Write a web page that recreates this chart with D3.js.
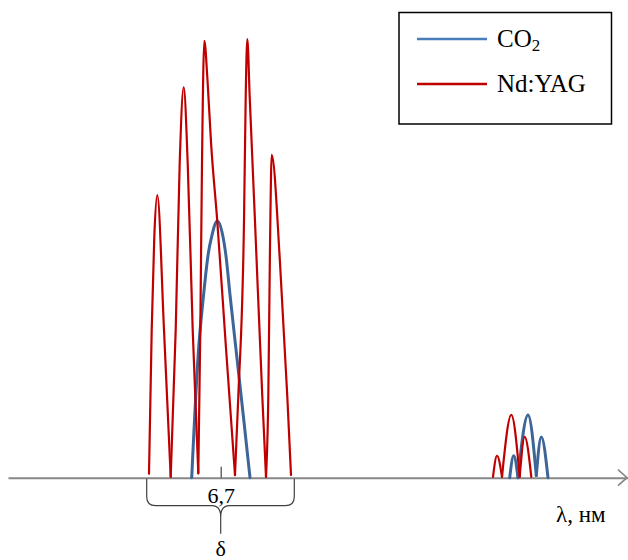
<!DOCTYPE html>
<html>
<head>
<meta charset="utf-8">
<script src="https://cdn.jsdelivr.net/npm/d3@7"></script>
<style>
  html, body { margin: 0; padding: 0; background: #fff; }
  svg { display: block; }
</style>
</head>
<body>
<script>
// Emission lobes as [wavelength position, relative intensity] points.
// Each lobe is drawn as its own smooth segment so the troughs stay sharp.
const ndyagLobes = [
  [[14.10, 0.9], [14.37, 33.7], [14.63, 54.9], [14.93, 64.4], [15.60, 33.7], [16.27, 0.2]],
  [[16.27, 0.2], [16.77, 33.7], [17.17, 71.7], [17.57, 89.0], [17.97, 71.7], [18.47, 33.7], [19.03, 1.0]],
  [[19.03, 1.0], [19.23, 33.7], [19.40, 71.7], [19.63, 99.6], [19.95, 90.6], [20.30, 76.5], [20.93, 58.4], [21.80, 29.5], [22.70, 0.6]],
  [[22.70, 0.6], [23.03, 18.5], [23.60, 58.4], [23.77, 86.8], [23.93, 100], [24.17, 86.8], [24.70, 58.4], [25.43, 18.5], [25.80, 0.2]],
  [[25.80, 0.2], [26.03, 18.5], [26.20, 52.6], [26.37, 73.6], [27.20, 49.0], [27.93, 18.5], [28.30, 0.6]],
  [[48.50, 0.2], [48.90, 5.0], [49.40, 0.2]],
  [[49.40, 0.2], [50.33, 14.3], [51.17, 0.2]],
  [[51.17, 0.2], [51.67, 9.3], [52.33, 0.2]]
];

const co2Lobes = [
  [[18.37, 0.0], [19.03, 28.4], [19.55, 41.5], [20.03, 51.1], [20.37, 55.0], [20.93, 58.5], [21.40, 56.0], [21.80, 50.5], [22.20, 41.7], [22.90, 27.2], [23.60, 12.7], [24.20, 0.0]],
  [[50.17, 0.0], [50.57, 5.0], [51.00, 0.0]],
  [[51.00, 0.0], [52.00, 14.3], [52.83, 0.5]],
  [[52.83, 0.5], [53.33, 9.3], [54.00, 0.0]]
];

const seriesNames = ["CO", "Nd:YAG"];
const seriesSub = ["2", ""];
const axisTicks = [21.27];
const axisTickLabels = ["6,7"];
const braceSpan = [13.87, 28.63];
const braceLabel = "δ";
const axisLabel = "λ, нм";

const W = 628, H = 560;
const FONT = "'Liberation Serif', 'Times New Roman', serif";
const RED = "#c00000", BLUE = "#3d6598", BLUE_KEY = "#4a7ebb", GREY = "#878787";

const svg = d3.select("body").append("svg")
  .attr("width", W).attr("height", H);

const x = d3.scaleLinear().domain([0, 62]).range([8, 628]);
const y = d3.scaleLinear().domain([0, 100]).range([477.7, 39]);
const y0 = y(0);

// Horizontal wavelength axis with a single upward tick
const axis = d3.axisBottom(x)
  .tickValues(axisTicks)
  .tickFormat((d, i) => axisTickLabels[i])
  .tickSizeInner(-11)
  .tickSizeOuter(0)
  .tickPadding(10);

const gAxis = svg.append("g").attr("transform", `translate(0,${y0})`).call(axis);
gAxis.select(".domain").attr("stroke", GREY).attr("stroke-width", 2);
gAxis.selectAll(".tick line").attr("stroke", "#404040").attr("stroke-width", 1.2);
gAxis.selectAll(".tick text")
  .attr("font-family", FONT).attr("font-size", 22).attr("fill", "#000");

// Open arrowhead at the end of the axis
const xEnd = x.range()[1] - 1;
svg.append("path")
  .attr("d", `M${xEnd - 9},${y0 - 8}L${xEnd},${y0}L${xEnd - 9},${y0 + 8}`)
  .attr("fill", "none").attr("stroke", GREY).attr("stroke-width", 1.6);

svg.append("text")
  .attr("x", 556).attr("y", y0 + 44)
  .attr("font-family", FONT).attr("font-size", 23).attr("fill", "#000")
  .text(axisLabel);

// Curly brace under the main band
const bl = x(braceSpan[0]), br = x(braceSpan[1]), bc = x(axisTicks[0]);
const bh = y0 + 28;
const braceD =
  `M${bl},${y0 + 1}V${bh - 9}Q${bl},${bh} ${bl + 9},${bh}H${bc - 9}` +
  `Q${bc},${bh} ${bc},${bh + 11}V${bh + 28}` +
  `M${bc},${bh + 11}Q${bc},${bh} ${bc + 9},${bh}H${br - 9}` +
  `Q${br},${bh} ${br},${bh - 9}V${y0 + 1}`;
svg.append("path").attr("d", braceD)
  .attr("fill", "none").attr("stroke", "#404040").attr("stroke-width", 1.2);

svg.append("text")
  .attr("x", bc).attr("y", 556).attr("text-anchor", "middle")
  .attr("font-family", FONT).attr("font-size", 22).attr("fill", "#000")
  .text(braceLabel);

// Spectral lobes
const line = d3.line()
  .x(d => x(d[0]))
  .y(d => y(d[1]))
  .curve(d3.curveMonotoneX);

svg.append("g").selectAll("path").data(co2Lobes).join("path")
  .attr("d", line)
  .attr("fill", "none").attr("stroke", BLUE).attr("stroke-width", 3)
  .attr("stroke-linecap", "round").attr("stroke-linejoin", "round");

svg.append("g").selectAll("path").data(ndyagLobes).join("path")
  .attr("d", line)
  .attr("fill", "none").attr("stroke", RED).attr("stroke-width", 2.2)
  .attr("stroke-linecap", "round").attr("stroke-linejoin", "round");

// Legend
const lg = svg.append("g");
lg.append("rect")
  .attr("x", 399).attr("y", 12.5).attr("width", 212.5).attr("height", 111.5)
  .attr("fill", "#fff").attr("stroke", "#000").attr("stroke-width", 1.5);

const keyColors = [BLUE_KEY, RED];
const keyY = [39, 84];
seriesNames.forEach((name, i) => {
  lg.append("line")
    .attr("x1", 417).attr("x2", 487).attr("y1", keyY[i]).attr("y2", keyY[i])
    .attr("stroke", keyColors[i]).attr("stroke-width", 2.6);
  const t = lg.append("text")
    .attr("x", 497).attr("y", keyY[i] + 8)
    .attr("font-family", FONT).attr("font-size", 25).attr("fill", "#000");
  t.append("tspan").text(name);
  if (seriesSub[i]) {
    t.append("tspan").attr("dy", 4).attr("font-size", 17).text(seriesSub[i]);
  }
});
</script>
</body>
</html>
